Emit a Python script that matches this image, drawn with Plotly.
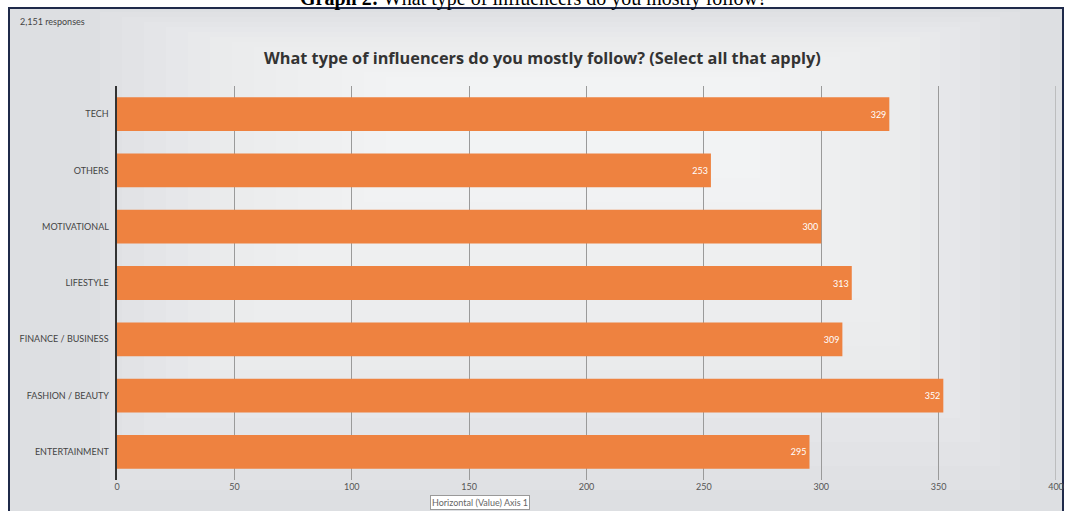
import plotly.graph_objects as go

categories = ["TECH", "OTHERS", "MOTIVATIONAL", "LIFESTYLE",
              "FINANCE / BUSINESS", "FASHION / BEAUTY", "ENTERTAINMENT"]
values = [329, 253, 300, 313, 309, 352, 295]
x_ticks = [0, 50, 100, 150, 200, 250, 300, 350, 400]

fig = go.Figure(go.Bar(
    y=categories, x=values, orientation="h",
    marker=dict(color="#EE8240", line=dict(width=0)),
    width=0.6,
    text=[str(v) for v in values], textposition="inside",
    insidetextanchor="end",
    textfont=dict(color="white", size=9, family="Lato"),
    cliponaxis=False,
))

W, H = 1067, 511
L, R, T, B = 117, 11, 86, 31
pw, ph = W - L - R, H - T - B

def px(xp):
    return (xp - L) / pw

def py(yp):
    return 1 - (yp - T) / ph

shapes = [
    dict(type="rect", xref="paper", yref="paper", layer="below",
         x0=px(9), x1=px(1063), y0=py(8), y1=py(513),
         fillcolor="#dddfe2", line=dict(color="#1f2a4a", width=2)),
]
# soft lighter centre (layered translucent rectangles)
for i in range(14):
    shapes.append(dict(type="rect", xref="paper", yref="paper", layer="below",
                       x0=px(100 + i * 22), x1=px(1020 - i * 20),
                       y0=py(12 + i * 5), y1=py(490 - i * 24),
                       fillcolor="rgba(250,250,251,0.09)", line=dict(width=0)))
# gridline at the right end of the value axis
shapes.append(dict(type="line", xref="x", yref="paper", layer="below",
                   x0=x_ticks[-1], x1=x_ticks[-1], y0=0, y1=1,
                   line=dict(color="#9a9a9a", width=1)))

fig.update_layout(
    width=W, height=H,
    margin=dict(l=L, r=R, t=T, b=B, autoexpand=False),
    paper_bgcolor="white",
    plot_bgcolor="rgba(0,0,0,0)",
    showlegend=False,
    bargap=0.4,
    font=dict(family="Lato", color="#444"),
    xaxis=dict(range=[0, 400], tickvals=x_ticks, showgrid=True,
               gridcolor="#9a9a9a", gridwidth=1, zeroline=False,
               tickfont=dict(size=9, color="#555"), ticks="",
               automargin=False, fixedrange=True),
    yaxis=dict(categoryorder="array", categoryarray=categories[::-1],
               showline=True, linecolor="#333", linewidth=2,
               tickfont=dict(size=9, color="#444"), ticks="",
               ticksuffix="  ", automargin=False, fixedrange=True),
    shapes=shapes,
    annotations=[
        dict(text="<b>Graph 2:</b> What type of influencers do you mostly follow?",
             xref="paper", yref="paper", x=px(533), y=py(-2), xanchor="center",
             yanchor="middle", showarrow=False,
             font=dict(family="Liberation Serif", size=20, color="black")),
        dict(text="2,151 responses", xref="paper", yref="paper",
             x=px(18), y=py(22), xanchor="left", yanchor="middle",
             showarrow=False, font=dict(size=9, color="#444")),
        dict(text="<b>What type of influencers do you mostly follow? (Select all that apply)</b>",
             xref="paper", yref="paper", x=px(542), y=py(58),
             xanchor="center", yanchor="middle", showarrow=False,
             font=dict(family="Open Sans", size=16.3, color="#333")),
        dict(text="Horizontal (Value) Axis 1", xref="paper", yref="paper",
             x=px(480), y=py(503), xanchor="center", yanchor="middle",
             showarrow=False, bgcolor="white", bordercolor="#999",
             borderwidth=1, font=dict(size=9, color="#666")),
    ],
)

fig.write_html("out.html")
